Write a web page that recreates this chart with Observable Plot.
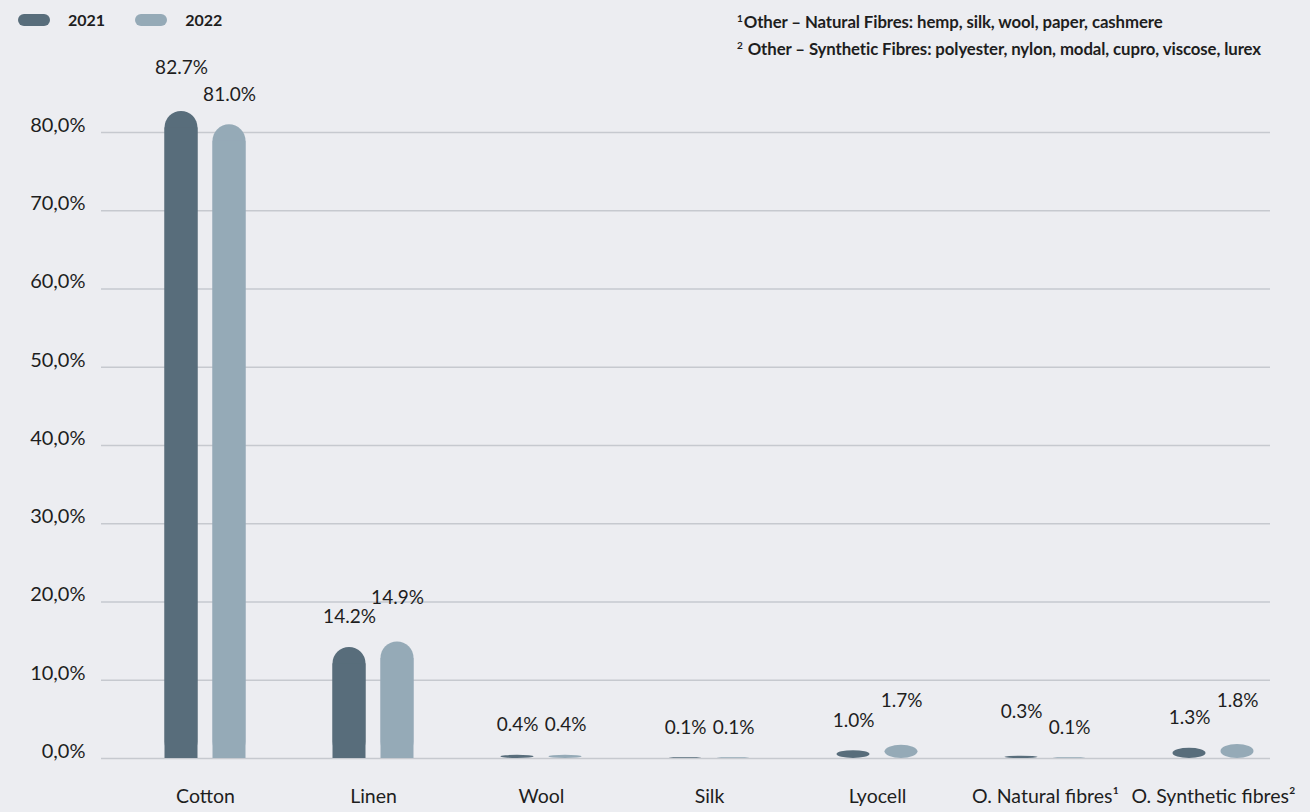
<!DOCTYPE html>
<html>
<head>
<meta charset="utf-8">
<script src="https://cdn.jsdelivr.net/npm/d3@7"></script>
<script src="https://cdn.jsdelivr.net/npm/@observablehq/plot@0.6"></script>
<style>
  html, body { margin: 0; padding: 0; background: #ecedf1; }
  #wrap { position: relative; width: 1310px; height: 812px; font-family: Lato, "Open Sans", sans-serif; color: #1e1e1e; }
  #legend { position: absolute; left: 18px; top: 10px; display: flex; align-items: center; font-size: 16px; font-weight: 700; }
  .sw { display: inline-block; width: 32px; height: 12px; border-radius: 6px; margin-right: 18px; }
  .item { display: flex; align-items: center; margin-right: 30px; }
  #notes { position: absolute; left: 737px; top: 8px; font-size: 16.8px; font-weight: 700; line-height: 27px; letter-spacing: -0.1px; }
  #notes sup { font-size: 10px; vertical-align: 6px; margin-right: 1px; line-height: 0; }
</style>
</head>
<body>
<div id="wrap">
  <div id="chart"></div>
  <div id="legend"></div>
  <div id="notes"></div>
</div>
<script>
// ---- data ----
const categories = ["Cotton", "Linen", "Wool", "Silk", "Lyocell", "O. Natural fibres¹", "O. Synthetic fibres²"];
const values2021 = [82.7, 14.2, 0.4, 0.1, 1.0, 0.3, 1.3];
const values2022 = [81.0, 14.9, 0.4, 0.1, 1.7, 0.1, 1.8];
const years = ["2021", "2022"];
const yTicks = [0, 10, 20, 30, 40, 50, 60, 70, 80];
const footnotes = [
  ["1", "Other \u2013 Natural Fibres: hemp, silk, wool, paper, cashmere"],
  ["2", " Other \u2013 Synthetic Fibres: polyester, nylon, modal, cupro, viscose, lurex"]
];

// ---- styling ----
const colors = {"2021": "#586d7b", "2022": "#95aab7"};
const data = categories.map((c, i) => ({category: c, v2021: values2021[i], v2022: values2022[i]}));
const fmtLabel = v => d3.format(".1f")(v) + "%";
const fmtAxis = v => d3.format(".1f")(v).replace(".", ",") + "%";

// the larger value of a pair gets its label lifted a bit more, so the two labels never collide
const isHigher = (d, key) => d[key] > (key === "v2021" ? d.v2022 : d.v2021);
const lowData = key => data.filter(d => !isHigher(d, key));
const highData = key => data.filter(d => isHigher(d, key));

const near = 43.5, far = 91.5; // insets placing 33px bars ±24px from band centre
function bars(key, color, insL, insR) {
  return [
    Plot.barY(data, {x: "category", y: key, fill: color, rx: 16.5, insetLeft: insL, insetRight: insR}),
    Plot.barY(data, {x: "category", y: key, fill: color, insetLeft: insL, insetRight: insR, insetTop: 16.5})
  ];
}
function labels(key, dx) {
  const common = {x: "category", y: key, text: d => fmtLabel(d[key]), dx, fontSize: 19, fill: "#1e1e1e"};
  return [
    Plot.text(lowData(key), {...common, dy: -30}),
    Plot.text(highData(key), {...common, dy: -44})
  ];
}

const chart = Plot.plot({
  width: 1310,
  height: 812,
  marginLeft: 101,
  marginRight: 40,
  marginTop: 93,
  marginBottom: 54,
  style: {fontFamily: "Lato, 'Open Sans', sans-serif", background: "transparent", color: "#1e1e1e", overflow: "visible"},
  x: {domain: categories, range: [120, 1298], padding: 0, label: null},
  y: {domain: [0, 85], label: null},
  marks: [
    Plot.gridY(yTicks, {stroke: "#c6c9cf", strokeOpacity: 1, strokeWidth: 1.5}),
    Plot.axisY(yTicks, {tickSize: 0, tickPadding: 16, tickFormat: fmtAxis, fontSize: 20, dy: -7, label: null}),
    Plot.axisX({tickSize: 0, tickPadding: 31, fontSize: 19.5, label: null}),
    ...bars("v2021", colors["2021"], near, far),
    ...bars("v2022", colors["2022"], far, near),
    ...labels("v2021", -24),
    ...labels("v2022", 24)
  ]
});
document.getElementById("chart").appendChild(chart);

// legend
const legend = document.getElementById("legend");
years.forEach(y => {
  const item = document.createElement("div");
  item.className = "item";
  const sw = document.createElement("span");
  sw.className = "sw";
  sw.style.background = colors[y];
  const t = document.createElement("span");
  t.textContent = y;
  item.appendChild(sw);
  item.appendChild(t);
  legend.appendChild(item);
});

// footnotes
const notes = document.getElementById("notes");
footnotes.forEach(([n, txt]) => {
  const div = document.createElement("div");
  const s = document.createElement("sup");
  s.textContent = n;
  div.appendChild(s);
  div.appendChild(document.createTextNode(txt));
  notes.appendChild(div);
});
</script>
</body>
</html>
